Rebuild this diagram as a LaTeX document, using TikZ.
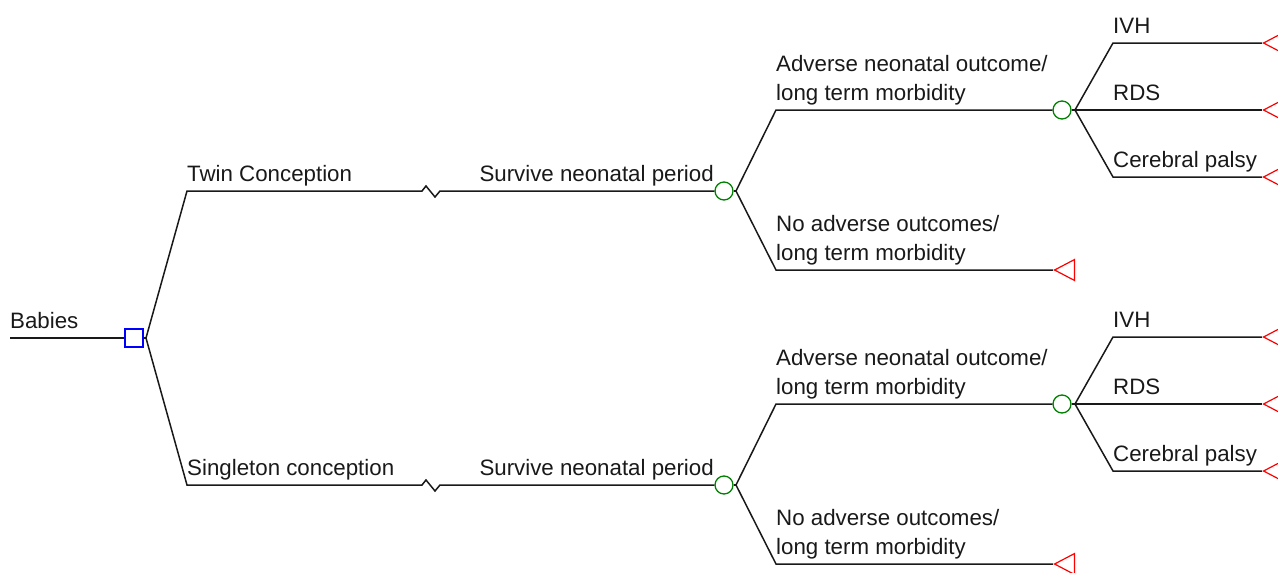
\documentclass[tikz,border=0pt]{standalone}
\usepackage{fontspec}
\setmainfont{Liberation Sans}
\usetikzlibrary{shapes.geometric}
\begin{document}
\begin{tikzpicture}[x=1pt,y=-1pt,
  every node/.style={font=\fontsize{22.3}{28.5}\selectfont, text=black!90},
  br/.style={line width=1.5pt, black!90},
  decbox/.style={draw=blue, line width=1.3pt, rectangle, minimum size=18pt, inner sep=0pt},
  chance/.style={draw=green!50!black, line width=1.3pt, circle, minimum size=18pt, inner sep=0pt},
  term/.style={draw=red, line width=1.2pt, isosceles triangle, shape border rotate=180,
     isosceles triangle stretches, minimum width=21pt, minimum height=20pt, inner sep=0pt, anchor=apex},
  lab/.style={anchor=base west, inner sep=0pt},
  lab2/.style={anchor=base west, inner sep=0pt, align=left},
  labr/.style={anchor=base east, inner sep=0pt}]
\useasboundingbox (0,0) rectangle (1278,573);
% root
\coordinate (r0) at (10,338);
\node[decbox] (dec) at (134,338) {};
\coordinate (b0) at (146,338);
\node[lab] (lbab) at (10,328) {Babies};
\draw[br] (r0) -- (dec.west);
\draw[br] (dec.east) -- (b0);
% two main subtrees
\foreach \n/\y/\name in {A/191/Twin Conception, B/485/Singleton conception}{
  \coordinate (s\n) at (187,\y);
  \coordinate (z\n1) at (422,\y);
  \coordinate (z\n2) at (426,\y-5);
  \coordinate (z\n3) at (435,\y+6);
  \coordinate (z\n4) at (440,\y);
  \node[chance] (c\n) at (724,\y) {};
  \coordinate (bc\n) at (736,\y);
  \node[lab] (l\n) at (187,\y-10) {\name};
  \node[labr] (sv\n) at (714,\y-10) {Survive neonatal period};
  \draw[br] (b0) -- (s\n) -- (z\n1) -- (z\n2) -- (z\n3) -- (z\n4) -- (c\n.west);
  \draw[br] (c\n.east) -- (bc\n);
  % adverse branch
  \coordinate (ad\n) at (776,\y-81);
  \node[chance] (cc\n) at (1062,\y-81) {};
  \coordinate (bcc\n) at (1075,\y-81);
  \node[lab2] (lad\n) at (776,\y-81-10) {Adverse neonatal outcome/\\long term morbidity};
  \draw[br] (bc\n) -- (ad\n) -- (cc\n.west);
  % no adverse branch
  \coordinate (na\n) at (776,\y+79);
  \node[term] (tn\n) at (1053,\y+79) {};
  \node[lab2] (lna\n) at (776,\y+79-10) {No adverse outcomes/\\long term morbidity};
  \draw[br] (bc\n) -- (na\n) -- (tn\n.apex);
  % outcomes
  \foreach \k/\dy/\txt in {1/-148/IVH, 2/-81/RDS, 3/-14/Cerebral palsy}{
    \coordinate (o\n\k) at (1113,\y+\dy);
    \node[term] (to\n\k) at (1262,\y+\dy) {};
    \node[lab] (lo\n\k) at (1113,\y+\dy-10) {\txt};
  }
  \draw[br] (cc\n.east) -- (o\n2) -- (to\n2.apex);
  \draw[br] (bcc\n) -- (o\n1) -- (to\n1.apex);
  \draw[br] (bcc\n) -- (o\n3) -- (to\n3.apex);
}
\end{tikzpicture}
\end{document}
